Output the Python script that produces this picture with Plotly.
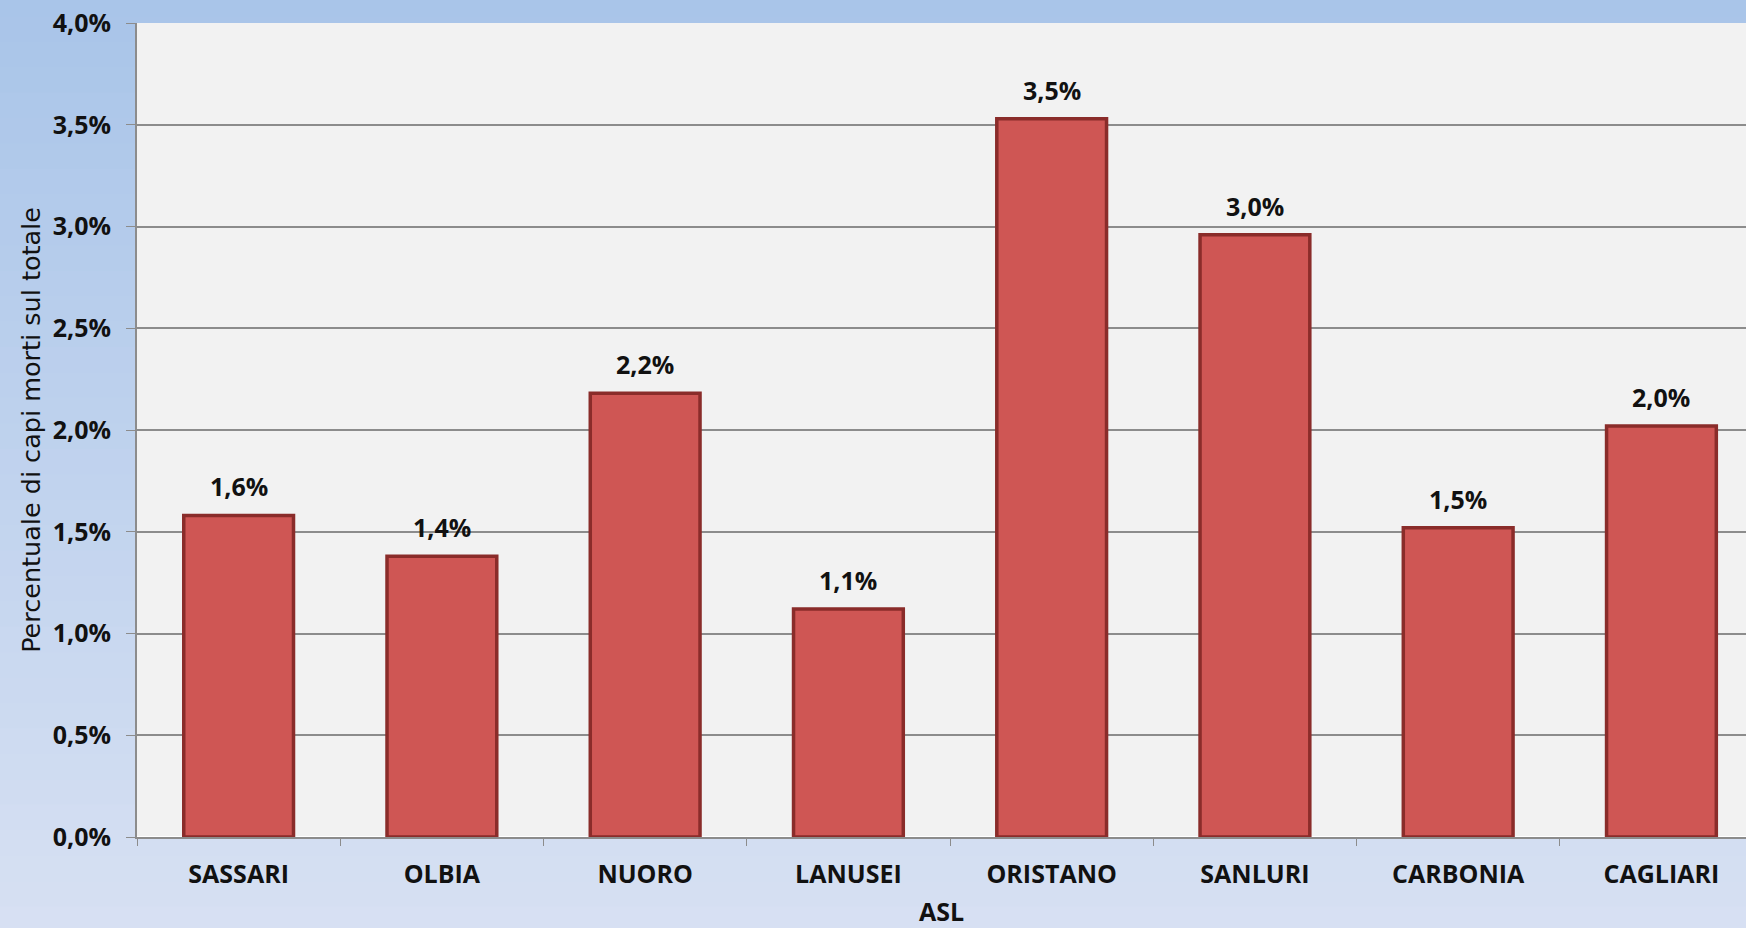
import plotly.graph_objects as go

# data
asl = ["SASSARI", "OLBIA", "NUORO", "LANUSEI", "ORISTANO", "SANLURI", "CARBONIA", "CAGLIARI"]
pct_morti = [0.0158, 0.0138, 0.0218, 0.0112, 0.0353, 0.0296, 0.0152, 0.0202]
y_ticks = [0.0, 0.005, 0.01, 0.015, 0.02, 0.025, 0.03, 0.035, 0.04]

W, H = 1746, 928
FONT = "Open Sans"

fig = go.Figure()
fig.add_trace(go.Bar(
    x=asl, y=pct_morti,
    width=0.54,
    marker=dict(color="#cf5654", line=dict(color="#8a2c2a", width=3.5)),
    showlegend=False, hoverinfo="x+y",
))

# value labels above the bars
for cat, v in zip(asl, pct_morti):
    fig.add_annotation(x=cat, y=v, text=("%.1f%%" % (v * 100)).replace(".", ","),
                       showarrow=False, yanchor="bottom", yshift=10,
                       font=dict(family=FONT, size=25, color="#111111", weight=700))

# background gradient (light blue, darker at the top)
shapes = []
n = 40
top_c = (166, 195, 232)
bot_c = (216, 225, 243)
for i in range(n):
    t = i / (n - 1)
    c = tuple(int(round(top_c[k] + (bot_c[k] - top_c[k]) * t)) for k in range(3))
    shapes.append(dict(type="rect", xref="paper", yref="paper", layer="below",
                       x0=-0.2, x1=1.2,
                       y0=1.1 - (i + 1) * 1.25 / n, y1=1.1 - i * 1.25 / n + 0.002,
                       fillcolor="rgb(%d,%d,%d)" % c, line_width=0))
shapes.append(dict(type="rect", xref="x domain", yref="y domain", layer="below",
                   x0=0, x1=1, y0=0, y1=1, fillcolor="#f2f2f2", line_width=0))

fig.update_layout(
    width=W, height=H,
    margin=dict(l=137, r=0, t=23, b=91),
    paper_bgcolor="#c0d2ee",
    plot_bgcolor="rgba(0,0,0,0)",
    separators=",.",
    shapes=shapes,
    font=dict(family=FONT, color="#111111"),
)
fig.update_xaxes(
    range=[-0.5, 7.416],
    showline=True, linecolor="#8c8c8c", linewidth=2,
    ticks="outside", tickson="boundaries", ticklen=7, tickcolor="#8c8c8c",
    tickfont=dict(family=FONT, size=25, weight=700),
    ticklabelstandoff=14,
    title=dict(text="ASL", font=dict(family=FONT, size=25, weight=700), standoff=19),
)
fig.update_yaxes(
    range=[0, 0.04], tickvals=y_ticks, tickformat=".1%",
    showline=True, linecolor="#8c8c8c", linewidth=2,
    showgrid=True, gridcolor="#8c8c8c", gridwidth=1.5,
    ticks="outside", ticklen=9, tickcolor="#8c8c8c",
    tickfont=dict(family=FONT, size=25, weight=700),
    ticklabelstandoff=10,
    title=dict(text="Percentuale di capi morti sul totale",
               font=dict(family="DejaVu Sans", size=25.5), standoff=5),
)

fig.write_html("out.html", config={"displayModeBar": False},
               post_script="document.body.style.margin='0';")
